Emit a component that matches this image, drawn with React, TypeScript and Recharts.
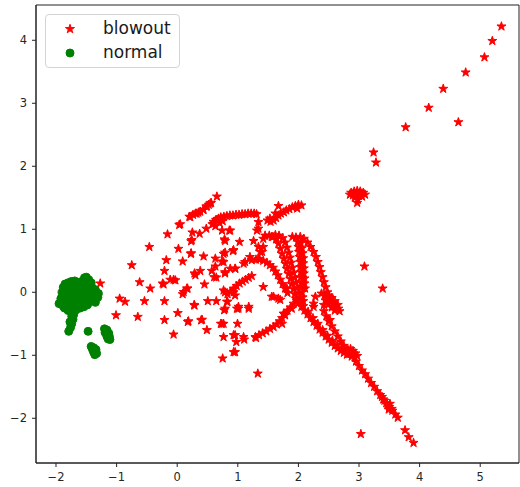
import { ScatterChart, Scatter, XAxis, YAxis, ReferenceArea } from 'recharts';

type Pt = [number, number];

// axis ranges and ticks
const X_DOMAIN: [number, number] = [-2.33, 5.64];
const Y_DOMAIN: [number, number] = [-2.71, 4.56];
const X_TICKS = [-2, -1, 0, 1, 2, 3, 4, 5];
const Y_TICKS = [-2, -1, 0, 1, 2, 3, 4];

// blowout: loose stars in the middle cloud
const blowoutCloud: Pt[] = [
  [0.655, 1.52], [0.545, 1.41], [0.49, 1.365], [0.435, 1.31], [0.35, 1.265], [0.3, 1.25], [0.215, 1.195],
  [0.033, 1.07], [-0.16, 0.92], [-0.46, 0.72], [-0.75, 0.43], [-0.62, 0.16], [-0.95, -0.1], [-0.86, -0.15],
  [-1.01, -0.365], [-0.65, -0.39], [-0.54, -0.14], [-0.445, 0.06], [-0.225, 0.125], [-0.21, 0.34],
  [-0.18, 0.51], [0.02, 0.69], [0.09, 0.49], [-0.115, 0.2], [-0.06, 0.2], [-0.21, -0.14], [-0.21, -0.44],
  [-0.06, -0.67], [0.01, -0.33], [0.175, -0.47], [0.09, -0.03], [0.105, 0.005], [0.17, 0.06], [0.28, -0.2],
  [0.3, 0.27], [0.38, 0.34], [0.435, 0.57], [0.23, 0.62], [0.23, 0.81], [0.25, 0.95], [0.37, 0.93],
  [0.48, 1.01], [0.6, 1.09], [0.45, 0.125], [0.505, -0.14], [0.645, -0.14], [0.41, -0.435], [0.49, -0.6],
  [0.765, -0.71], [0.75, -1.05], [0.955, -0.95], [0.765, -0.5], [0.775, -0.285], [0.82, -0.15], [0.79, 0.0],
  [0.79, 0.815], [0.86, 0.98], [0.79, 0.63], [0.92, 0.655], [0.79, 0.3], [0.645, 0.235], [0.57, 0.34],
  [0.63, 0.41], [0.63, 0.535], [0.74, 0.49], [0.875, 0.375], [0.955, 0.375], [0.94, 0.06], [0.955, -0.05],
  [0.985, -0.26], [0.955, -0.68], [0.975, -0.79], [-1.27, 0.14], [1.33, -1.29], [0.225, 0.61], [-0.24, 0.14],
  [-0.03, 0.19], [0.16, 0.06], [0.285, 0.3], [0.285, -0.21], [0.185, -0.46], [0.395, -0.445], [0.72, -0.5],
  [1.18, -0.26], [0.995, -0.5], [1.105, -0.75], [1.3, -0.725], [0.93, -0.95], [0.83, -0.15], [0.93, 0.0],
  [0.05, 1.08], [0.74, 0.98], [0.24, 0.83], [1.03, 0.8], [1.26, 0.815], [1.315, 0.98], [0.78, 0.84],
  [0.765, 0.61], [0.765, 0.48], [0.61, 0.24], [0.79, 0.32], [1.095, 0.455], [1.23, 0.51], [1.42, 0.72],
  [1.37, 0.64], [0.765, 0.03], [0.79, -0.26], [1.01, -0.26], [0.735, -0.5], [0.93, -0.68], [1.095, -0.71],
  [1.56, -0.07], [1.67, -0.1], [1.755, -0.34], [1.89, -0.26], [0.875, 0.98], [1.34, 1.115], [1.34, 1.01],
  [0.93, 0.67], [1.42, 0.85], [1.56, 0.88], [1.4, 0.64], [1.34, 0.72], [1.2, 0.56], [1.12, 0.48],
  [0.96, 0.375], [1.59, -0.07], [1.7, -0.12], [1.78, -0.365], [1.42, 0.085], [1.765, -0.34], [1.73, -0.5],
  [1.81, 0.06], [2.25, -0.18], [2.28, -0.07], [2.25, -0.23], [2.52, -0.44], [3.09, 0.41], [3.39, 0.06],
  [1.34, 0.53], [1.01, -0.23], [1.18, -0.23],
];

// blowout: upper-left streak, top row and the curl above the bands
const blowoutTop: Pt[] = [
  [0.2, 1.2], [0.26, 1.23], [0.32, 1.25], [0.38, 1.28], [0.43, 1.31], [0.48, 1.36], [0.52, 1.39], [0.56, 1.42],
  [0.58, 1.08], [0.6, 1.12], [0.64, 1.15], [0.68, 1.17], [0.72, 1.19], [0.77, 1.2], [0.82, 1.21], [0.87, 1.22],
  [0.92, 1.22], [0.97, 1.23], [1.02, 1.23], [1.07, 1.24], [1.12, 1.24], [1.17, 1.25], [1.22, 1.25], [1.27, 1.25],
  [1.31, 1.24], [0.63, 1.05], [0.7, 1.1], [0.75, 1.13],
  [1.49, 1.14], [1.54, 1.12], [1.59, 1.14], [1.63, 1.18], [1.67, 1.22], [1.71, 1.25], [1.76, 1.27], [1.8, 1.3],
  [1.85, 1.32], [1.9, 1.35], [1.95, 1.37], [2.0, 1.39], [2.05, 1.38], [1.98, 1.33], [1.67, 1.37], [1.62, 1.25],
  [1.53, 1.17],
];

// blowout: the curved bands between x=1.3 and x=2.5
const blowoutBands: Pt[] = [
  [1.45, 0.9], [1.52, 0.9], [1.58, 0.88], [1.63, 0.84], [1.67, 0.77], [1.7, 0.69], [1.73, 0.61], [1.76, 0.53],
  [1.79, 0.45], [1.81, 0.37], [1.84, 0.29], [1.87, 0.21], [1.89, 0.13], [1.92, 0.05], [1.94, -0.03], [1.96, -0.1],
  [1.62, 0.91], [1.68, 0.9], [1.74, 0.86], [1.78, 0.79], [1.81, 0.71], [1.84, 0.63], [1.86, 0.55], [1.88, 0.47],
  [1.9, 0.39], [1.92, 0.31], [1.94, 0.23], [1.96, 0.15], [1.98, 0.07], [2.0, -0.01], [2.02, -0.09],
  [1.9, 0.88], [1.96, 0.87], [1.99, 0.8], [2.0, 0.72], [2.01, 0.64], [2.02, 0.56], [2.03, 0.48], [2.03, 0.4],
  [2.04, 0.32], [2.04, 0.24], [2.05, 0.16], [2.05, 0.08], [2.06, 0.0], [2.07, -0.08], [2.08, -0.14],
  [2.04, 0.78], [2.06, 0.7], [2.07, 0.62], [2.08, 0.54], [2.08, 0.46], [2.09, 0.38], [2.09, 0.3], [2.1, 0.22],
  [2.1, 0.14], [2.11, 0.06],
  [2.03, 0.88], [2.09, 0.85], [2.15, 0.79], [2.2, 0.72], [2.25, 0.64], [2.29, 0.56], [2.32, 0.48], [2.35, 0.4],
  [2.37, 0.32], [2.4, 0.24], [2.42, 0.16], [2.45, 0.08], [2.48, 0.0], [2.51, -0.07],
  [1.3, 0.52], [1.36, 0.52], [1.42, 0.5], [1.48, 0.47], [1.53, 0.43], [1.58, 0.39], [1.62, 0.33], [1.66, 0.27],
  [1.7, 0.2], [1.74, 0.13], [1.78, 0.06], [1.82, -0.01],
  [0.83, -0.03], [0.88, 0.01], [0.93, 0.05], [0.98, 0.1], [1.03, 0.14], [1.08, 0.17], [1.13, 0.2], [1.18, 0.23],
  [1.23, 0.26],
];

// blowout: lower arc, the two arms and the long diagonal tail
const blowoutTail: Pt[] = [
  [1.29, -0.71], [1.35, -0.68], [1.41, -0.65], [1.47, -0.62], [1.53, -0.58], [1.59, -0.55], [1.64, -0.51],
  [1.69, -0.46], [1.73, -0.41], [1.77, -0.35], [1.82, -0.29], [1.87, -0.24], [1.92, -0.18], [1.97, -0.13],
  [2.0, -0.17], [2.05, -0.23], [2.1, -0.29], [2.15, -0.35], [2.2, -0.41], [2.25, -0.47], [2.3, -0.53],
  [2.35, -0.59], [2.4, -0.64], [2.45, -0.7], [2.5, -0.75], [2.55, -0.8], [2.6, -0.85], [2.65, -0.89],
  [2.7, -0.93], [2.75, -0.96], [2.8, -0.99],
  [2.08, -0.22], [2.16, -0.31], [2.24, -0.41], [2.32, -0.5], [2.4, -0.6], [2.48, -0.69], [2.56, -0.77],
  [2.64, -0.84], [2.72, -0.9],
  [2.38, -0.02], [2.43, -0.06], [2.48, -0.1], [2.53, -0.14], [2.58, -0.18], [2.62, -0.22], [2.66, -0.26],
  [2.68, -0.3], [2.5, -0.05], [2.55, -0.09], [2.6, -0.14], [2.65, -0.2], [2.45, -0.13], [2.5, -0.19],
  [2.55, -0.24], [2.6, -0.29], [2.42, -0.2],
  [2.42, -0.3], [2.46, -0.38], [2.5, -0.46], [2.55, -0.54], [2.6, -0.62], [2.65, -0.7], [2.7, -0.78],
  [2.75, -0.85], [2.8, -0.91],
  [2.82, -0.92], [2.86, -0.9], [2.9, -0.93], [2.94, -0.97], [2.97, -1.01], [2.93, -1.04], [2.88, -1.02],
  [2.84, -0.98],
  [2.95, -1.1], [3.0, -1.17], [3.05, -1.24], [3.1, -1.3], [3.15, -1.37], [3.2, -1.44], [3.25, -1.5],
  [3.3, -1.57], [3.35, -1.63], [3.4, -1.7], [3.45, -1.76], [3.5, -1.82], [3.55, -1.88], [3.6, -1.94],
  [3.64, -1.99], [3.38, -1.66], [3.42, -1.72], [3.47, -1.79], [3.51, -1.77], [3.54, -1.85], [3.49, -1.86],
  [3.76, -2.19], [3.82, -2.3], [3.9, -2.39], [3.03, -2.25],
];

// blowout: the blob near (3, 1.5) and the sparse upper-right streak
const blowoutFar: Pt[] = [
  [2.87, 1.58], [2.92, 1.6], [2.97, 1.61], [3.02, 1.6], [3.07, 1.58], [3.1, 1.55], [2.9, 1.54], [2.95, 1.55],
  [3.0, 1.53], [3.05, 1.52], [2.93, 1.5], [2.98, 1.47], [2.97, 1.42], [2.85, 1.55],
  [3.24, 2.22], [3.28, 2.06], [3.77, 2.62], [4.15, 2.93], [4.39, 3.23], [4.64, 2.7], [4.76, 3.49],
  [5.07, 3.73], [5.2, 3.99], [5.35, 4.22],
];

// normal: green cluster on the left
const normalMain: Pt[] = [
  [-1.95, -0.18], [-1.92, -0.1], [-1.9, 0.0], [-1.88, 0.08], [-1.85, 0.13], [-1.8, 0.15], [-1.75, 0.17],
  [-1.69, 0.18], [-1.64, 0.13], [-1.58, 0.17], [-1.53, 0.23], [-1.5, 0.24], [-1.46, 0.2], [-1.44, 0.11],
  [-1.4, 0.07], [-1.35, 0.04], [-1.3, -0.02], [-1.31, -0.08], [-1.35, -0.16], [-1.42, -0.14], [-1.48, -0.2],
  [-1.54, -0.23], [-1.6, -0.25], [-1.67, -0.28], [-1.74, -0.3], [-1.8, -0.29], [-1.88, -0.22], [-1.85, -0.05],
  [-1.8, 0.03], [-1.75, -0.08], [-1.7, -0.16], [-1.65, -0.02], [-1.6, -0.1], [-1.55, 0.02], [-1.5, -0.08],
  [-1.46, 0.0], [-1.72, 0.06], [-1.82, -0.15],
  [-1.9, -0.16], [-1.86, -0.25], [-1.78, -0.22], [-1.7, -0.24], [-1.64, -0.2], [-1.57, -0.16], [-1.52, -0.13],
  [-1.45, -0.08], [-1.4, -0.04], [-1.38, 0.0], [-1.42, 0.15], [-1.48, 0.13], [-1.55, 0.1], [-1.62, 0.06],
  [-1.68, 0.1], [-1.78, 0.09], [-1.85, 0.04], [-1.88, -0.07], [-1.78, -0.03], [-1.68, -0.08], [-1.58, -0.04],
  [-1.52, 0.06], [-1.73, -0.2], [-1.62, -0.15], [-1.34, -0.1], [-1.52, 0.18], [-1.77, -0.13],
];

const normalSmall: Pt[] = [
  [-1.71, -0.36], [-1.72, -0.43], [-1.74, -0.5], [-1.76, -0.56], [-1.79, -0.62], [-1.74, -0.38], [-1.77, -0.47],
  [-1.47, -0.62],
  [-1.2, -0.58], [-1.16, -0.6], [-1.13, -0.65], [-1.12, -0.7], [-1.11, -0.75], [-1.19, -0.64], [-1.16, -0.7],
  [-1.14, -0.74],
  [-1.42, -0.86], [-1.4, -0.9], [-1.38, -0.95], [-1.36, -0.99], [-1.33, -0.97], [-1.34, -0.91], [-1.38, -0.88],
];

const RED = '#ff0000';
const GREEN = '#008000';

function starPath(cx: number, cy: number, r: number) {
  const inner = r * 0.382;
  let d = '';
  for (let i = 0; i < 10; i++) {
    const rad = i % 2 === 0 ? r : inner;
    const a = (Math.PI / 5) * i - Math.PI / 2;
    d += `${i === 0 ? 'M' : 'L'}${(cx + rad * Math.cos(a)).toFixed(2)},${(cy + rad * Math.sin(a)).toFixed(2)}`;
  }
  return d + 'Z';
}

const StarShape = (props: any) => {
  const { cx, cy } = props;
  if (cx == null || cy == null) return null;
  return <path d={starPath(cx, cy, 4.7)} fill={RED} stroke={RED} strokeWidth={1} strokeLinejoin="round" />;
};

const DotShape = (props: any) => {
  const { cx, cy } = props;
  if (cx == null || cy == null) return null;
  return <circle cx={cx} cy={cy} r={4} fill={GREEN} stroke={GREEN} strokeWidth={1} />;
};

const toData = (pts: Pt[]) => pts.map(([x, y]) => ({ x, y }));

const blowoutData = toData([...blowoutCloud, ...blowoutTop, ...blowoutBands, ...blowoutTail, ...blowoutFar]);
const normalData = toData([...normalMain, ...normalSmall]);

const fmt = (v: number) => (v < 0 ? `\u2212${Math.abs(v)}` : `${v}`);

const FONT = '"DejaVu Sans", sans-serif';
const tickStyle = { fontSize: 11.5, fill: '#262626', fontFamily: FONT };

export default function App() {
  return (
    <div style={{ position: 'relative', width: 520, height: 487, background: '#fff' }}>
      <style>{`body { margin: 0; }`}</style>
      <ScatterChart width={520} height={487} margin={{ top: 5, right: 1, bottom: 0, left: 0 }}>
        <XAxis
          type="number"
          dataKey="x"
          domain={X_DOMAIN}
          ticks={X_TICKS}
          allowDataOverflow
          height={24}
          tickSize={4}
          tickMargin={6}
          tickFormatter={fmt}
          tick={tickStyle}
          stroke="#222"
        />
        <YAxis
          type="number"
          dataKey="y"
          domain={Y_DOMAIN}
          ticks={Y_TICKS}
          allowDataOverflow
          width={36}
          tickSize={4}
          tickMargin={5}
          tickFormatter={fmt}
          tick={tickStyle}
          stroke="#222"
        />
        <ReferenceArea
          x1={X_DOMAIN[0]}
          x2={X_DOMAIN[1]}
          y1={Y_DOMAIN[0]}
          y2={Y_DOMAIN[1]}
          fill="none"
          stroke="#222"
          strokeWidth={1}
          ifOverflow="visible"
        />
        <Scatter name="blowout" data={blowoutData} shape={StarShape} isAnimationActive={false} />
        <Scatter name="normal" data={normalData} shape={DotShape} isAnimationActive={false} />
      </ScatterChart>
      <div
        style={{
          position: 'absolute',
          left: 45,
          top: 14,
          width: 135,
          height: 54,
          boxSizing: 'border-box',
          border: '1px solid #d4d4d4',
          borderRadius: 4,
          background: 'rgba(255,255,255,0.8)',
        }}
      >
        <svg width={133} height={52} style={{ position: 'absolute', left: 0, top: 0 }}>
          <path d={starPath(24, 14, 4.7)} fill={RED} stroke={RED} strokeWidth={1} strokeLinejoin="round" />
          <circle cx={24} cy={38} r={4} fill={GREEN} stroke={GREEN} strokeWidth={1} />
          <text x={57} y={19} fontSize={17} fontFamily={FONT} fill="#1a1a1a">blowout</text>
          <text x={57} y={43} fontSize={17} fontFamily={FONT} fill="#1a1a1a">normal</text>
        </svg>
      </div>
    </div>
  );
}
